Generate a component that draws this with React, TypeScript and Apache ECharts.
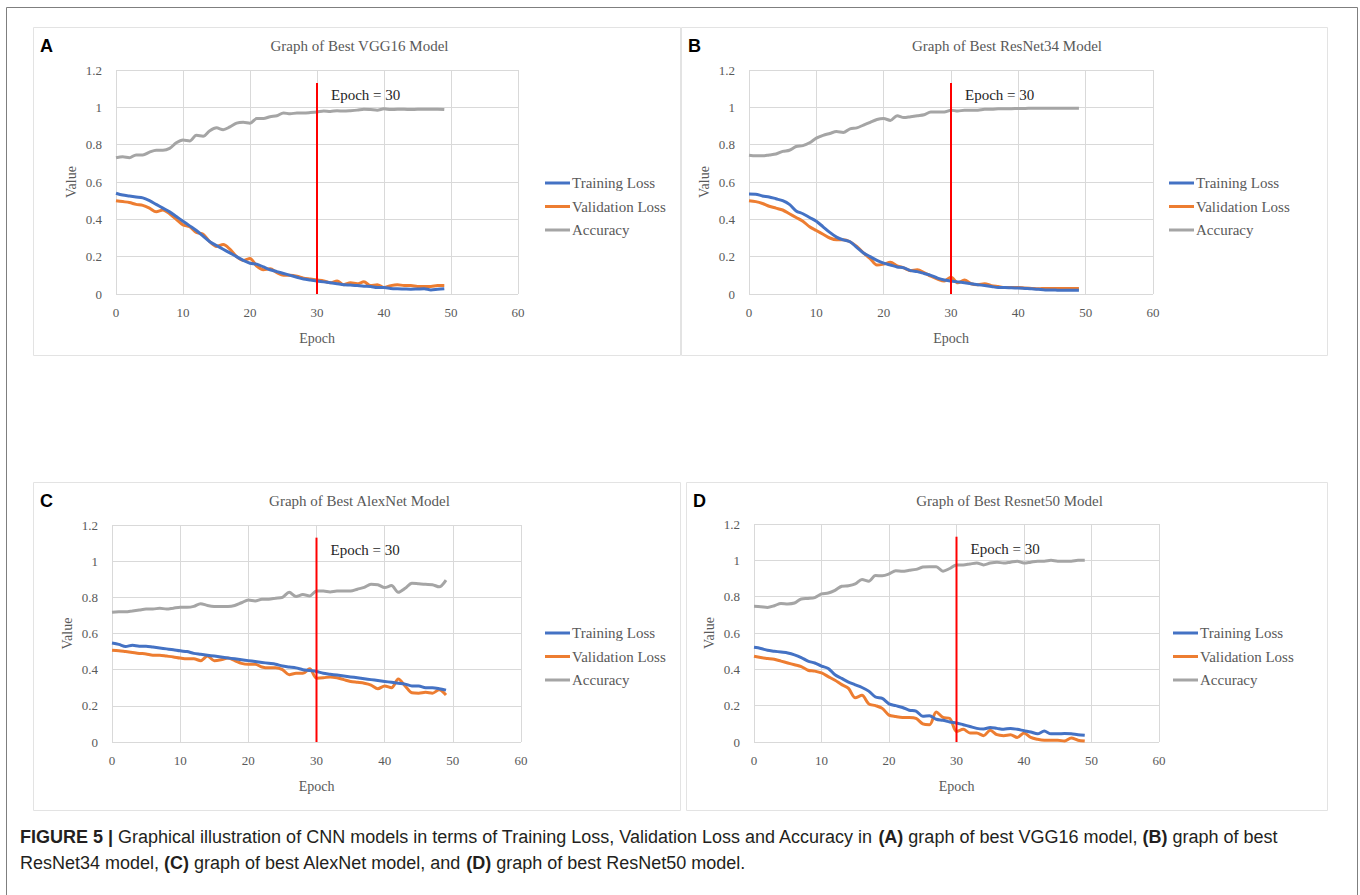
import React, { useEffect, useRef } from 'react';
import * as echarts from 'echarts';

const EPOCHS = Array.from({ length: 50 }, (_, i) => i);
const SERIES_NAMES = ['Training Loss', 'Validation Loss', 'Accuracy'];
const MARK_EPOCH = 30;
const MARK_TOP = 1.13;
const MARK_LABEL = 'Epoch = 30';

// Panel A - VGG16
const A_TRAIN = [0.54, 0.53, 0.525, 0.52, 0.515, 0.5, 0.48, 0.46, 0.44, 0.415, 0.39, 0.365, 0.34, 0.31, 0.28, 0.26, 0.24, 0.22, 0.2, 0.18, 0.165, 0.16, 0.145, 0.13, 0.12, 0.11, 0.1, 0.09, 0.08, 0.075, 0.07, 0.065, 0.06, 0.055, 0.05, 0.048, 0.045, 0.042, 0.04, 0.035, 0.035, 0.03, 0.028, 0.027, 0.026, 0.027, 0.028, 0.022, 0.025, 0.028];
const A_VAL = [0.5, 0.495, 0.49, 0.48, 0.475, 0.46, 0.44, 0.45, 0.43, 0.4, 0.37, 0.36, 0.33, 0.32, 0.28, 0.255, 0.265, 0.24, 0.2, 0.18, 0.19, 0.15, 0.13, 0.135, 0.115, 0.1, 0.1, 0.095, 0.085, 0.08, 0.075, 0.07, 0.06, 0.07, 0.05, 0.06, 0.055, 0.065, 0.045, 0.05, 0.035, 0.045, 0.05, 0.045, 0.045, 0.04, 0.04, 0.04, 0.045, 0.045];
const A_ACC = [0.73, 0.735, 0.73, 0.745, 0.745, 0.76, 0.77, 0.77, 0.78, 0.81, 0.825, 0.82, 0.85, 0.845, 0.875, 0.89, 0.88, 0.895, 0.915, 0.92, 0.915, 0.94, 0.94, 0.95, 0.955, 0.97, 0.965, 0.97, 0.97, 0.972, 0.975, 0.98, 0.978, 0.982, 0.98, 0.982, 0.985, 0.99, 0.988, 0.985, 0.992, 0.988, 0.99, 0.99, 0.988, 0.99, 0.99, 0.99, 0.99, 0.988];

// Panel B - ResNet34
const B_TRAIN = [0.536, 0.535, 0.525, 0.52, 0.51, 0.5, 0.48, 0.445, 0.43, 0.41, 0.39, 0.36, 0.33, 0.305, 0.29, 0.28, 0.25, 0.22, 0.2, 0.18, 0.165, 0.155, 0.145, 0.14, 0.125, 0.12, 0.11, 0.1, 0.085, 0.075, 0.07, 0.065, 0.06, 0.055, 0.05, 0.045, 0.04, 0.035, 0.035, 0.033, 0.032, 0.03, 0.028, 0.025, 0.022, 0.022, 0.02, 0.02, 0.02, 0.02];
const B_VAL = [0.5, 0.495, 0.485, 0.47, 0.46, 0.45, 0.43, 0.41, 0.39, 0.36, 0.34, 0.32, 0.3, 0.29, 0.29, 0.28, 0.255, 0.22, 0.19, 0.155, 0.16, 0.17, 0.15, 0.14, 0.125, 0.13, 0.115, 0.095, 0.08, 0.07, 0.09, 0.06, 0.075, 0.055, 0.05, 0.055, 0.045, 0.04, 0.035, 0.035, 0.035, 0.032, 0.03, 0.028, 0.03, 0.03, 0.03, 0.03, 0.03, 0.03];
const B_ACC = [0.743, 0.74, 0.74, 0.745, 0.75, 0.764, 0.77, 0.79, 0.795, 0.81, 0.835, 0.85, 0.86, 0.87, 0.865, 0.885, 0.89, 0.905, 0.92, 0.935, 0.94, 0.93, 0.955, 0.945, 0.95, 0.955, 0.96, 0.975, 0.975, 0.975, 0.985, 0.98, 0.985, 0.985, 0.985, 0.99, 0.99, 0.992, 0.993, 0.993, 0.994, 0.994, 0.995, 0.995, 0.995, 0.995, 0.995, 0.995, 0.995, 0.995];

// Panel C - AlexNet
const C_TRAIN = [0.547, 0.54, 0.528, 0.535, 0.53, 0.53, 0.525, 0.52, 0.515, 0.51, 0.504, 0.5, 0.49, 0.485, 0.48, 0.475, 0.47, 0.465, 0.46, 0.455, 0.45, 0.445, 0.44, 0.435, 0.43, 0.42, 0.415, 0.41, 0.4, 0.395, 0.39, 0.38, 0.375, 0.37, 0.365, 0.36, 0.355, 0.35, 0.345, 0.34, 0.335, 0.33, 0.325, 0.32, 0.31, 0.31, 0.3, 0.3, 0.295, 0.287];
const C_VAL = [0.508, 0.505, 0.5, 0.495, 0.49, 0.487, 0.48, 0.48, 0.475, 0.47, 0.464, 0.46, 0.46, 0.45, 0.475, 0.45, 0.455, 0.464, 0.45, 0.435, 0.43, 0.43, 0.415, 0.41, 0.41, 0.4, 0.372, 0.38, 0.38, 0.405, 0.353, 0.355, 0.36, 0.355, 0.345, 0.335, 0.33, 0.325, 0.315, 0.295, 0.31, 0.3, 0.348, 0.31, 0.272, 0.27, 0.275, 0.27, 0.289, 0.26];
const C_ACC = [0.718, 0.72, 0.72, 0.725, 0.73, 0.735, 0.735, 0.74, 0.735, 0.74, 0.745, 0.745, 0.75, 0.765, 0.755, 0.75, 0.75, 0.75, 0.755, 0.77, 0.785, 0.78, 0.79, 0.79, 0.795, 0.8, 0.828, 0.805, 0.815, 0.808, 0.835, 0.835, 0.83, 0.835, 0.835, 0.835, 0.845, 0.855, 0.872, 0.87, 0.854, 0.865, 0.828, 0.85, 0.878, 0.875, 0.872, 0.87, 0.858, 0.895];

// Panel D - ResNet50
const D_TRAIN = [0.521, 0.515, 0.505, 0.5, 0.495, 0.49, 0.48, 0.465, 0.445, 0.435, 0.418, 0.405, 0.37, 0.35, 0.33, 0.315, 0.3, 0.28, 0.248, 0.24, 0.21, 0.2, 0.19, 0.175, 0.17, 0.142, 0.145, 0.125, 0.12, 0.11, 0.105, 0.095, 0.085, 0.075, 0.072, 0.08, 0.075, 0.07, 0.075, 0.07, 0.062, 0.055, 0.045, 0.06, 0.045, 0.045, 0.047, 0.045, 0.04, 0.037];
const D_VAL = [0.472, 0.465, 0.46, 0.455, 0.445, 0.435, 0.425, 0.415, 0.395, 0.39, 0.38, 0.36, 0.34, 0.316, 0.295, 0.243, 0.257, 0.21, 0.2, 0.185, 0.148, 0.14, 0.135, 0.135, 0.13, 0.1, 0.095, 0.165, 0.135, 0.13, 0.058, 0.07, 0.05, 0.05, 0.035, 0.065, 0.04, 0.035, 0.04, 0.025, 0.05, 0.025, 0.015, 0.01, 0.01, 0.01, 0.005, 0.022, 0.01, 0.005];
const D_ACC = [0.747, 0.745, 0.741, 0.75, 0.763, 0.76, 0.765, 0.787, 0.79, 0.795, 0.815, 0.82, 0.835, 0.857, 0.86, 0.87, 0.894, 0.885, 0.916, 0.915, 0.925, 0.943, 0.94, 0.945, 0.95, 0.963, 0.965, 0.965, 0.94, 0.955, 0.975, 0.975, 0.98, 0.985, 0.975, 0.985, 0.99, 0.985, 0.99, 0.995, 0.985, 0.99, 0.995, 0.995, 1.0, 0.995, 0.995, 0.995, 1.0, 1.0];

const PANELS = [
  { letter: 'A', title: 'Graph of Best VGG16 Model', data: [A_TRAIN, A_VAL, A_ACC],
    box: [33, 27, 647, 328], grid: { left: 116, top: 70, width: 402, height: 224 }, legend: { left: 540, top: 170.5 } },
  { letter: 'B', title: 'Graph of Best ResNet34 Model', data: [B_TRAIN, B_VAL, B_ACC],
    box: [681, 27, 646, 328], grid: { left: 749, top: 70, width: 404, height: 224 }, legend: { left: 1164, top: 170.5 } },
  { letter: 'C', title: 'Graph of Best AlexNet Model', data: [C_TRAIN, C_VAL, C_ACC],
    box: [33, 482, 647, 328], grid: { left: 112, top: 525, width: 409, height: 217 }, legend: { left: 540, top: 620.5 } },
  { letter: 'D', title: 'Graph of Best Resnet50 Model', data: [D_TRAIN, D_VAL, D_ACC],
    box: [686, 482, 641, 328], grid: { left: 754, top: 524, width: 405, height: 218 }, legend: { left: 1168, top: 620.5 } },
];

const COLORS = ['#4472C4', '#ED7D31', '#A5A5A5'];
const SERIF = '"Liberation Serif", "Times New Roman", serif';
const SANS = '"Liberation Sans", Arial, sans-serif';
const AXIS_TEXT = '#595959';

export default function App() {
  const ref = useRef<HTMLDivElement>(null);
  useEffect(() => {
    const chart = echarts.init(ref.current!, null, { renderer: 'svg' });
    const grid: any[] = [];
    const xAxis: any[] = [];
    const yAxis: any[] = [];
    const series: any[] = [];
    const legend: any[] = [];
    const graphic: any[] = [
      { type: 'rect', shape: { x: 6.5, y: 7.5, width: 1351, height: 890 }, style: { fill: 'none', stroke: '#7f7f7f', lineWidth: 1 }, silent: true },
    ];

    PANELS.forEach((p, i) => {
      graphic.push({ type: 'rect', shape: { x: p.box[0] + 0.5, y: p.box[1] + 0.5, width: p.box[2], height: p.box[3] }, style: { fill: 'none', stroke: '#e3e3e3', lineWidth: 1 }, silent: true, z: -1 });
      graphic.push({ type: 'text', x: p.box[0] + 7, y: p.box[1] + 19, style: { text: p.letter, font: `bold 18px ${SANS}`, fill: '#000', textVerticalAlign: 'middle' } });
      graphic.push({ type: 'text', x: p.box[0] + p.box[2] / 2 + 3, y: p.box[1] + 19, style: { text: p.title, font: `15px ${SERIF}`, fill: AXIS_TEXT, textAlign: 'center', textVerticalAlign: 'middle' } });

      grid.push({ left: p.grid.left, top: p.grid.top, width: p.grid.width, height: p.grid.height });
      xAxis.push({
        type: 'value', gridIndex: i, min: 0, max: 60, interval: 10,
        name: 'Epoch', nameLocation: 'middle', nameGap: 37,
        nameTextStyle: { fontFamily: SERIF, fontSize: 14, color: AXIS_TEXT },
        axisLine: { show: false }, axisTick: { show: false },
        axisLabel: { fontFamily: SERIF, fontSize: 13, color: AXIS_TEXT, margin: 12 },
        splitLine: { show: true, lineStyle: { color: '#d9d9d9', width: 1 } },
      });
      yAxis.push({
        type: 'value', gridIndex: i, min: 0, max: 1.2, interval: 0.2,
        name: 'Value', nameLocation: 'middle', nameGap: 38,
        nameTextStyle: { fontFamily: SERIF, fontSize: 14, color: AXIS_TEXT },
        axisLine: { show: false }, axisTick: { show: false },
        axisLabel: { fontFamily: SERIF, fontSize: 13, color: AXIS_TEXT, margin: 14 },
        splitLine: { show: true, lineStyle: { color: '#d9d9d9', width: 1 } },
      });
      p.data.forEach((vals, k) => {
        series.push({
          type: 'line', name: SERIES_NAMES[k], xAxisIndex: i, yAxisIndex: i,
          data: EPOCHS.map((e, j) => [e, vals[j]]),
          symbol: 'none', smooth: 0.3,
          lineStyle: { color: COLORS[k], width: 3 }, itemStyle: { color: COLORS[k] },
          z: 2 + (k === 2 ? 0 : 2 - k),
        });
      });
      series.push({
        type: 'line', name: 'marker' + i, xAxisIndex: i, yAxisIndex: i,
        data: [[MARK_EPOCH, 0], [MARK_EPOCH, MARK_TOP]],
        symbol: 'none', lineStyle: { color: '#FF0000', width: 2 }, z: 5,
        endLabel: { show: true, formatter: MARK_LABEL, fontFamily: SERIF, fontSize: 15, color: '#262626', offset: [6, 12] },
      });
      legend.push({
        orient: 'vertical', left: p.legend.left, top: p.legend.top,
        data: SERIES_NAMES, icon: 'rect', itemWidth: 25, itemHeight: 3, itemGap: 8.5,
        textStyle: { fontFamily: SERIF, fontSize: 15, color: AXIS_TEXT, padding: [0, 0, 0, -3] },
        selectedMode: false,
      });
    });

    graphic.push({
      type: 'text', x: 20, y: 850,
      style: {
        text: '{b|FIGURE 5 |} Graphical illustration of CNN models in terms of Training Loss, Validation Loss and Accuracy in {b|(A)} graph of best VGG16 model, {b|(B)} graph of best\nResNet34 model, {b|(C)} graph of best AlexNet model, and {b|(D)} graph of best ResNet50 model.',
        font: `18px ${SANS}`, fill: '#231f20', lineHeight: 26, textVerticalAlign: 'middle',
        rich: { b: { fontWeight: 'bold', fontSize: 18, fontFamily: SANS, fill: '#231f20', lineHeight: 26 } },
      },
    });

    chart.setOption({
      animation: false,
      backgroundColor: '#ffffff',
      grid, xAxis, yAxis, series, legend, graphic,
      tooltip: { show: false },
    });
    return () => chart.dispose();
  }, []);
  return <div ref={ref} style={{ position: 'absolute', left: 0, top: 0, width: 1360, height: 895 }} />;
}
